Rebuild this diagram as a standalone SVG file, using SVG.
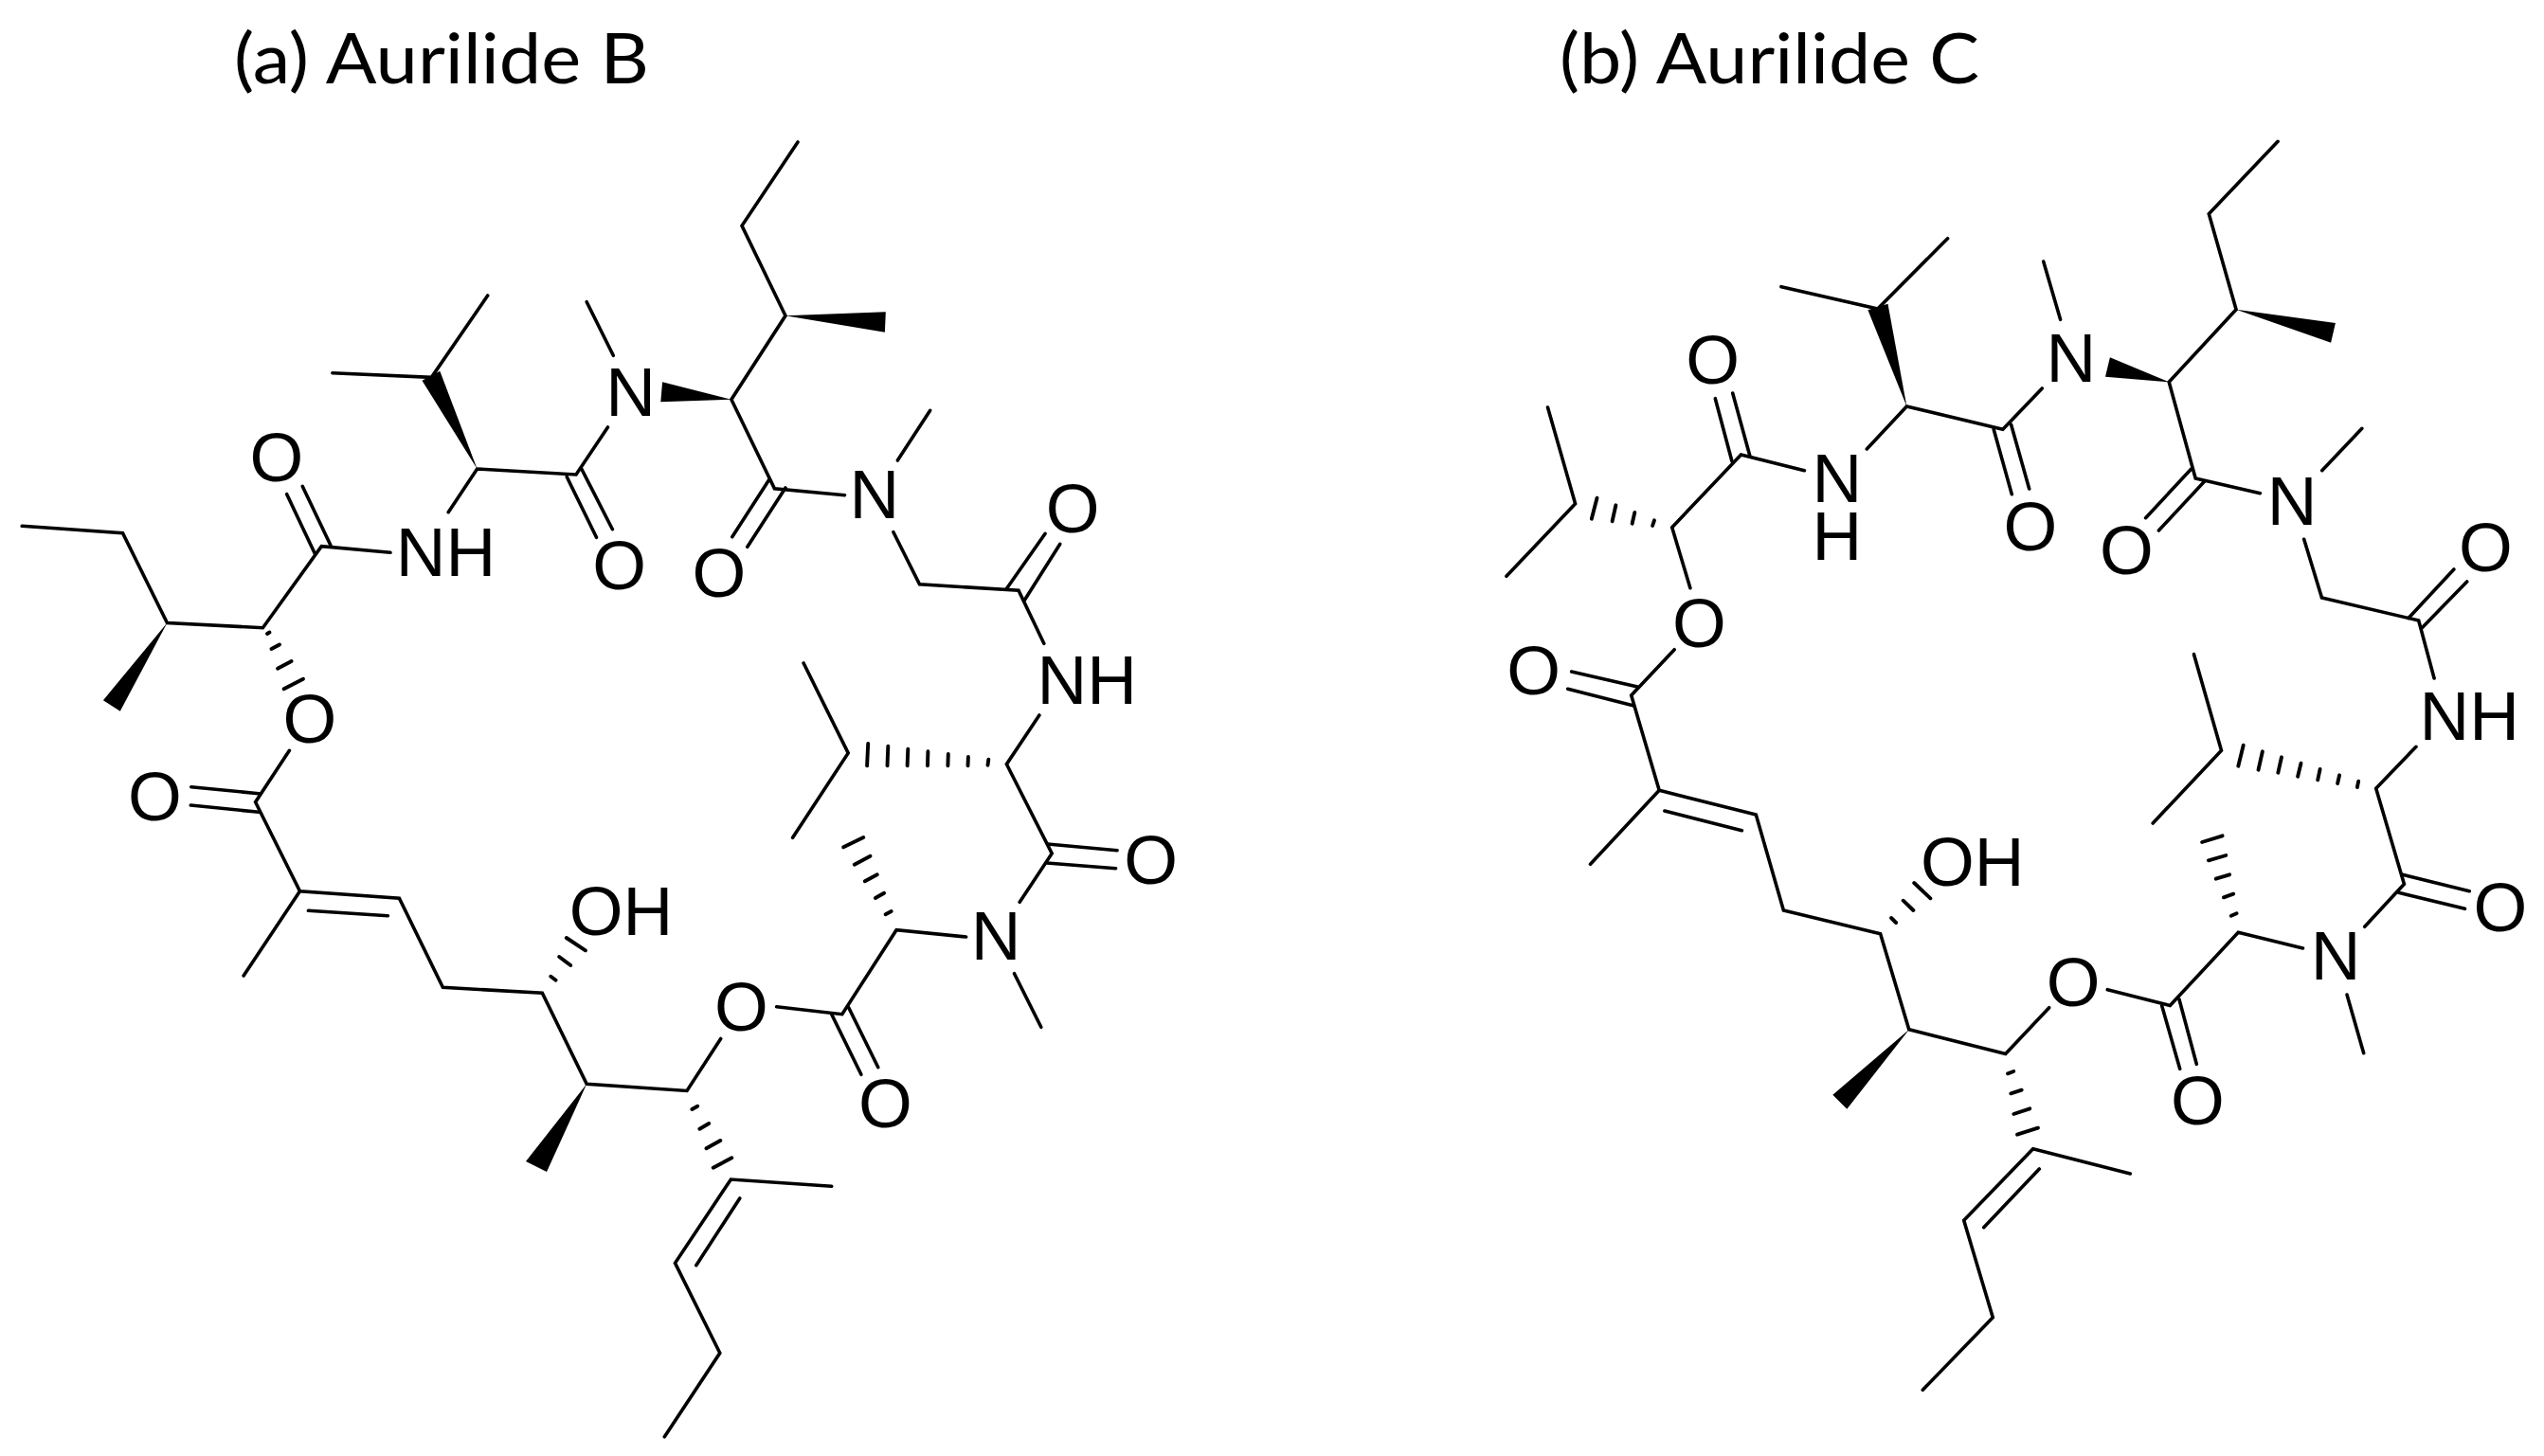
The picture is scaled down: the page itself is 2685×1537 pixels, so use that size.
<svg xmlns="http://www.w3.org/2000/svg" width="2685" height="1537" viewBox="0 0 2685 1537">
<style>
.b{fill:none;stroke:#000;stroke-width:3.6;stroke-linecap:round;stroke-linejoin:miter}
.h{fill:none;stroke:#000;stroke-width:3.9;stroke-linecap:round}
.w{fill:#000;stroke:none}
.a{font-family:"Liberation Sans",Arial,sans-serif;font-size:73px;text-anchor:middle;fill:#000}
.t{font-family:Lato,"Open Sans",sans-serif;font-size:74px;fill:#000}
</style>
<rect width="2685" height="1537" fill="#fff"/>
<text id="title-a" class="t" x="247" y="88.3" textLength="438" lengthAdjust="spacingAndGlyphs">(a) Aurilide B</text>
<text id="title-b" class="t" x="1646" y="88.3" textLength="443" lengthAdjust="spacingAndGlyphs">(b) Aurilide C</text>
<g id="aurilide-b">
<g id="bonds-a">
<path class="b" d="M23.2,555.3L129.5,562.7L176.4,657.6L277.4,662.7L339.3,576.7L412,583.3"/>
<path class="b" d="M302.7,521.7L332.6,585M319.2,513.3L349,575.7"/>
<path class="b" d="M514.7,312L455.4,398.3L350.9,393.7"/>
<path class="b" d="M473.2,540.7L503.6,495L608,501L641.5,451"/>
<path class="b" d="M598.2,503.3L629.5,567.3M613.8,495L646.4,558.7"/>
<path class="b" d="M619.2,318.7L647.3,375.3"/>
<path class="b" d="M842,150L783,238.3L829,333.3L771.9,421.7L817.4,515.7L891.5,522.7"/>
<path class="b" d="M812,506L772.8,566.7M829,515L788.8,577.3"/>
<path class="b" d="M947.3,486L981.7,433.3"/>
<path class="b" d="M942.9,561.7L970.5,616.7L1075,623.3L1101.8,679.3"/>
<path class="b" d="M1103.1,563.3L1062,622M1118.8,574.3L1081.5,633.3"/>
<path class="b" d="M1096.9,755L1062.4,806.7L1110.2,901L1076.2,952.3"/>
<path class="b" d="M1105.7,891L1179.1,897.7M1104.9,911L1177.6,916.7"/>
<path class="b" d="M848.1,700L895.2,795L836.6,884.3"/>
<path class="b" d="M1070.5,1027.7L1098.8,1084.3"/>
<path class="b" d="M1019.6,989L946.1,981.7L888.8,1070.7L819.6,1062.7"/>
<path class="b" d="M877.7,1070.7L908.9,1134.3M895.5,1063.3L926.8,1126.7"/>
<path class="b" d="M305.4,792.3L269.6,846.7L316.5,940.7L421.4,948.3L467.4,1042.3L572.3,1048.3L619.2,1144.3L725,1151.5L760.7,1096.5"/>
<path class="b" d="M201.8,830.7L273.2,837.7M201.3,850L273.2,857.3"/>
<path class="b" d="M325.4,961.3L409.4,966.7M316.5,940.7L257.1,1030"/>
<path class="b" d="M877.7,1252.3L771.4,1245L712.5,1333.3L759.8,1428.3L701.3,1516.7"/>
<path class="b" d="M780.8,1265L734.8,1335.7"/>
<polygon class="w" points="176.4,657.6 108.9,739.3 126.8,750.7"/>
<polygon class="w" points="503.6,495 464.3,391.7 445.5,401.7"/>
<polygon class="w" points="771.9,421.7 699.1,403.3 697.3,424.3"/>
<polygon class="w" points="829,333.3 934.8,329.3 933.9,350.7"/>
<polygon class="w" points="619.2,1144.3 555,1226 577,1237"/>
<path class="h" d="M299.6,727.3L320,716.7M293,705.7L307.6,698M286.5,685L295,680.5M282,669L284.5,667.5"/>
<path class="h" d="M597.8,990L617.9,1003.3M590.2,1010L602.2,1019M581.3,1030.7L586.6,1034.7"/>
<path class="h" d="M916.2,785L915.1,808.3M937.3,787.7L936.5,808.3M958.3,790.7L957.6,808.3M979.4,793.3L979,808.3M1000.8,796L1000.4,808.3M1021.9,799L1021.5,808.3M1043.3,801.7L1042.5,807.7"/>
<path class="h" d="M890.2,894.3L911.3,884M901.7,912.7L918.5,903.7M912.8,930.3L925.8,923.3M923.9,948L933.1,942.7M934.6,965.3L940.7,962"/>
<path class="h" d="M730.4,1171L736.2,1167.7M738.4,1191.7L748.2,1186M745.5,1212.3L760.3,1204M752.7,1232.7L772.3,1222.3"/>
</g>
<g id="atoms-a">
<text class="a" x="292" y="507.7">O</text>
<text class="a" x="470.5" y="607.7">NH</text>
<text class="a" x="653.6" y="622">O</text>
<text class="a" x="665.6" y="439">N</text>
<text class="a" x="758.9" y="630">O</text>
<text class="a" x="922.8" y="546.7">N</text>
<text class="a" x="1132.1" y="561.7">O</text>
<text class="a" x="1147.2" y="742.7">NH</text>
<text class="a" x="1214.7" y="933.3">O</text>
<text class="a" x="1051.1" y="1013.3">N</text>
<text class="a" x="782.3" y="1088.3">O</text>
<text class="a" x="934.4" y="1190">O</text>
<text class="a" x="655.4" y="986.7">OH</text>
<text class="a" x="326.8" y="784.3">O</text>
<text class="a" x="163.4" y="865.7">O</text>
</g>
</g>
<g id="aurilide-c">
<g id="bonds-b">
<path class="b" d="M1633.5,430L1662.6,531.7L1589.9,608.3"/>
<path class="b" d="M1783.9,620.7L1764.7,556.7L1837.5,480L1904.4,496.7"/>
<path class="b" d="M1810.3,420.7L1827.9,486.7M1828.7,415L1847,481.7"/>
<path class="b" d="M2055.6,251.7L1981.7,326L1880,302.7"/>
<path class="b" d="M1970.3,474L2012.4,429L2113.8,453.3L2155.3,410"/>
<path class="b" d="M2104.2,453.3L2123.3,521.7M2122.6,448.3L2141.7,516"/>
<path class="b" d="M2156.7,276L2174.6,337.3"/>
<path class="b" d="M2404.1,149.3L2331.3,225.7L2360.1,326.7L2289.2,403.3L2317.2,505L2385.4,520.7"/>
<path class="b" d="M2312.7,495L2264.6,546.7M2326.5,508.3L2278.4,560"/>
<path class="b" d="M2450.7,496.7L2492.9,452.3"/>
<path class="b" d="M2431.7,569.3L2450.5,631L2552.7,655L2569.1,716"/>
<path class="b" d="M2589.9,601L2542,652.5M2603.7,614L2556,663"/>
<path class="b" d="M2550,788.3L2507.7,832.3L2537.4,933.3L2495.7,978.3"/>
<path class="b" d="M2535.7,923.3L2606.3,940.7M2531.6,942.3L2601.5,959.3"/>
<path class="b" d="M2315.5,690.7L2344.5,792.3L2272.2,869"/>
<path class="b" d="M2477,1050L2494.7,1111.7"/>
<path class="b" d="M2430.5,1001L2362.3,984.3L2290.3,1061.5L2224.3,1044.7"/>
<path class="b" d="M2281.7,1061.7L2300.7,1128.3M2300,1055L2318.3,1123.3"/>
<path class="b" d="M1767.2,685.7L1721.7,734L1751.2,834.3L1853.3,860L1882.4,961L1984.6,985.7L2014.8,1086.7L2116.7,1112.5L2162.7,1063.7"/>
<path class="b" d="M1658.6,709L1728.2,725M1654.7,727.3L1724.4,745"/>
<path class="b" d="M1756.9,856L1838.4,876.7M1751.2,834.3L1678.5,912.3"/>
<path class="b" d="M2248.3,1239L2145.7,1212.7L2072.7,1288.3L2103.3,1390.7L2029.3,1467.3"/>
<path class="b" d="M2152.3,1234L2093.7,1295.7"/>
<polygon class="w" points="2012.4,429 1992.5,320.7 1971.4,327.3"/>
<polygon class="w" points="2289.2,403.3 2226.9,377.3 2222,397.7"/>
<polygon class="w" points="2360.1,326.7 2464.9,341 2460.1,361.7"/>
<polygon class="w" points="2015,1086.7 1934.3,1155.7 1949.3,1170.7"/>
<path class="h" d="M1685.5,525.7L1679.8,547.7M1705.4,533.3L1701.6,550.3M1725.3,541L1722.6,552.7M1746,549.3L1744.1,555"/>
<path class="h" d="M2020.2,932L2037.4,948.3M2008.7,950.7L2019.4,961M1996.1,969L2001.1,974"/>
<path class="h" d="M2367.7,786.7L2362.3,808.7M2387.9,793.3L2383.5,812.7M2408,799.3L2404.3,815.7M2428.5,805.7L2425.1,819.7M2448.6,812L2446.2,823.3M2469.1,818.3L2467.1,827M2489.2,824.7L2487.9,831"/>
<path class="h" d="M2354.8,966.7L2360.6,964.3M2346.9,947.3L2357.2,943.7M2338.7,927.7L2353.1,923.3M2330.9,908.3L2349.3,903M2324.1,889L2345.6,882.3"/>
<path class="h" d="M2119,1133.3L2125.3,1131M2122.3,1154.3L2133.7,1150.7M2125.3,1176L2142.3,1170.3M2129,1197.7L2151,1190.7"/>
</g>
<g id="atoms-b">
<text class="a" x="1807.6" y="405">O</text>
<text class="a" x="1938.9" y="530">N</text>
<text class="a" x="1938.9" y="591">H</text>
<text class="a" x="2142.9" y="580.7">O</text>
<text class="a" x="2185.8" y="402.7">N</text>
<text class="a" x="2244.4" y="606">O</text>
<text class="a" x="2419" y="554">N</text>
<text class="a" x="2623.5" y="603.3">O</text>
<text class="a" x="2606.3" y="780.7">NH</text>
<text class="a" x="2639" y="983.3">O</text>
<text class="a" x="2465" y="1034">N</text>
<text class="a" x="2188.2" y="1061.7">O</text>
<text class="a" x="2319.3" y="1187.3">O</text>
<text class="a" x="2081.8" y="935">OH</text>
<text class="a" x="1793.4" y="683.3">O</text>
<text class="a" x="1618.6" y="733.3">O</text>
</g>
</g>
</svg>
